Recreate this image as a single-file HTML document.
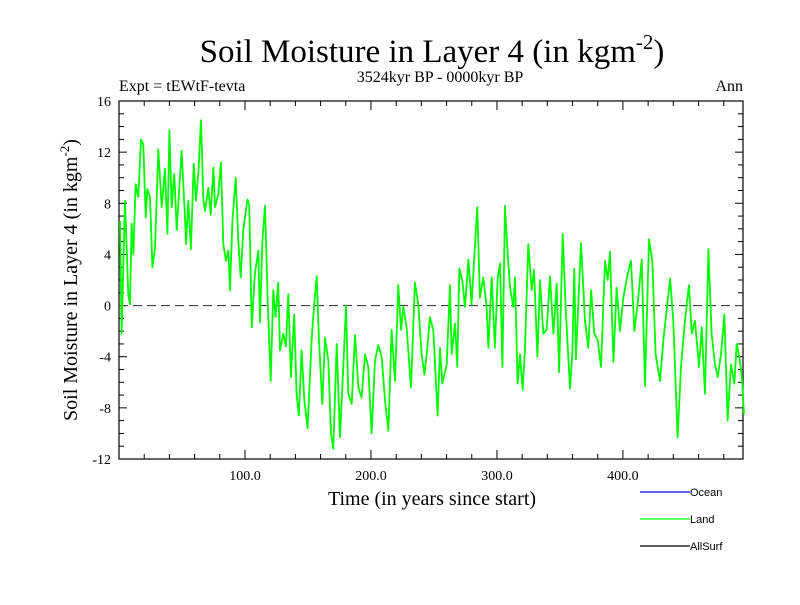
<!DOCTYPE html>
<html><head><meta charset="utf-8"><style>
body{margin:0;background:#fff}
svg text{font-family:"Liberation Serif",serif}
</style></head><body>
<svg id="chart" width="800" height="600" viewBox="0 0 800 600" xmlns="http://www.w3.org/2000/svg">
<rect width="800" height="600" fill="#fff"/>
<text x="432" y="62" font-size="33" text-anchor="middle">Soil Moisture in Layer 4 (in kgm<tspan dy="-13" font-size="21">-2</tspan><tspan dy="13">)</tspan></text>
<text x="440" y="82" font-size="16" text-anchor="middle">3524kyr BP - 0000kyr BP</text>
<text x="119" y="91" font-size="16">Expt = tEWtF-tevta</text>
<text x="743" y="91" font-size="16" text-anchor="end">Ann</text>
<text x="432" y="505" font-size="20" text-anchor="middle">Time (in years since start)</text>
<text transform="translate(77,280) rotate(-90)" font-size="20" text-anchor="middle">Soil Moisture in Layer 4 (in kgm<tspan dy="-8" font-size="13">-2</tspan><tspan dy="8">)</tspan></text>
<g id="axes"></g>
<g id="series"></g>
<g font-family="Liberation Sans, sans-serif">
<line x1="640" y1="492" x2="690" y2="492" stroke="#0000ff" stroke-width="1.2"/>
<text x="690" y="496" font-size="11" style="font-family:'Liberation Sans',sans-serif">Ocean</text>
<line x1="640" y1="519" x2="690" y2="519" stroke="#00ff00" stroke-width="1.2"/>
<text x="690" y="523" font-size="11" style="font-family:'Liberation Sans',sans-serif">Land</text>
<line x1="640" y1="546" x2="690" y2="546" stroke="#000" stroke-width="1.2"/>
<text x="690" y="550" font-size="11" style="font-family:'Liberation Sans',sans-serif">AllSurf</text>
</g>
</svg>
<script>
const years = [0.8,2.1,4.8,7.4,8.7,10.0,11.4,13.2,15.3,17.5,19.3,21.2,22.5,24.6,26.5,28.6,31.2,33.9,36.5,38.4,40.0,41.8,43.9,45.8,49.7,52.4,53.2,55.0,57.1,59.3,61.1,63.0,65.1,67.0,68.3,70.9,72.8,74.9,76.2,78.8,80.9,82.8,84.9,86.8,88.1,90.0,92.6,94.7,96.6,98.7,101.9,103.4,105.3,107.9,110.6,111.9,113.8,115.9,118.0,120.4,122.5,124.3,126.4,127.8,130.4,132.5,134.4,136.5,139.1,141.0,142.8,144.9,147.1,149.7,152.9,154.8,156.9,158.7,161.4,163.5,166.1,168.3,170.1,172.8,175.4,178.1,180.2,182.0,184.7,187.3,190.0,192.6,195.3,197.9,200.5,203.2,205.8,208.5,211.1,213.8,216.4,219.1,221.7,223.8,225.7,228.3,231.8,234.9,237.6,240.2,242.4,244.2,246.8,249.5,252.9,254.8,256.6,260.1,262.7,264.0,266.7,268.5,270.1,272.5,274.6,277.3,279.9,282.6,284.4,286.5,289.2,291.8,293.2,295.8,298.4,300.6,302.4,304.3,306.4,308.5,310.4,313.0,314.3,316.4,318.3,320.4,322.3,324.9,327.6,329.4,332.1,334.2,336.8,339.5,342.1,344.8,347.4,349.3,352.2,354.5,358.0,359.8,361.4,362.7,366.7,369.9,372.5,374.7,377.3,380.0,382.6,385.8,387.9,389.7,392.4,395.0,397.7,400.3,403.8,406.4,409.1,412.2,414.9,417.5,420.7,423.3,425.9,429.4,432.1,435.5,437.4,440.0,443.4,446.1,448.5,450.6,452.4,454.6,457.2,460.4,462.5,465.1,467.8,470.4,473.1,475.2,477.8,480.5,483.1,485.8,488.4,490.3,492.4,494.3,496.1];
const landValues = [6.6,-2.2,8.2,0.8,0.1,6.4,4.0,9.5,8.5,13.0,12.6,6.9,9.1,8.5,3.0,4.5,12.2,7.7,10.7,5.6,13.7,7.7,10.3,5.9,12.1,6.9,4.8,8.2,4.4,11.1,8.2,10.4,14.5,8.2,7.4,9.2,7.1,10.8,7.7,8.7,11.2,4.8,3.5,4.3,1.2,6.6,10.0,5.1,2.2,5.9,8.3,7.8,-1.7,2.5,4.3,-1.3,5.1,7.8,0.4,-5.9,1.2,-0.9,1.8,-3.5,-2.2,-3.2,0.9,-5.6,-0.7,-6.9,-8.6,-3.5,-7.4,-9.6,-2.7,-0.1,2.3,-2.6,-7.7,-2.5,-4.3,-10.0,-11.2,-3.0,-10.3,-4.6,0,-6.9,-7.7,-2.3,-6.4,-7.2,-3.8,-4.8,-10.0,-4.3,-3.1,-4.0,-7.4,-9.8,-1.9,-5.9,1.6,-1.9,-0.1,-1.7,-6.4,1.8,0.1,-3.8,-5.4,-3.8,-0.9,-1.9,-8.6,-3.3,-6.1,-4.6,1.6,-3.8,-1.4,-4.8,2.9,2.0,-0.1,3.6,0.1,4.8,7.7,0.6,2.2,-0.1,-3.3,2.2,-3.3,2.2,3.3,-4.8,7.8,4.0,1.4,-0.1,2.2,-6.1,-3.8,-6.6,-3.3,4.8,1.2,2.8,-4.0,2.0,-2.2,-1.9,2.3,-2.2,1.7,-5.2,5.6,-0.1,-6.5,-3.8,2.9,-4.2,4.9,-1.2,-3.3,1.2,-2.2,-2.7,-4.8,3.5,2.0,4.2,-4.4,1.4,-2.0,0.6,2.5,3.5,-2.0,0.6,3.6,-6.3,5.2,3.5,-3.8,-5.9,-2.7,0.4,2.1,-1.2,-10.3,-4.8,-2.0,0.1,1.6,-2.2,-1.2,-4.8,-1.7,-6.9,4.4,-2.2,-4.6,-5.6,-3.8,-0.7,-9.0,-4.6,-6.1,-3.0,-4.0,-5.4,-8.5];
const yTicks = [-12,-8,-4,0,4,8,12,16];
const xTicks = [100,200,300,400];
const xTickLabels = ["100.0","200.0","300.0","400.0"];

const NS="http://www.w3.org/2000/svg";
const L=119,R=743,T=101,B=459, XMIN=0,XMAX=495.3,YMIN=-12,YMAX=16;
const sx=v=>L+(v-XMIN)/(XMAX-XMIN)*(R-L);
const sy=v=>B-(v-YMIN)/(YMAX-YMIN)*(B-T);
function mk(tag,attrs,parent){const e=document.createElementNS(NS,tag);for(const k in attrs)e.setAttribute(k,attrs[k]);parent.appendChild(e);return e;}
const axes=document.getElementById('axes');
const frame=mk('rect',{x:L,y:T,width:R-L,height:B-T,fill:'none',stroke:'#000','stroke-width':1.2},axes);


for(let v=YMIN;v<=YMAX;v++){
  const major=(v%4===0);const len=major?8:5;const y=sy(v);
  mk('line',{x1:L,y1:y,x2:L+len,y2:y,stroke:'#000','stroke-width':1},axes);
  mk('line',{x1:R,y1:y,x2:R-len,y2:y,stroke:'#000','stroke-width':1},axes);
}
yTicks.forEach(v=>{
  const t=mk('text',{x:L-8,y:sy(v)+5,'font-size':14,'text-anchor':'end'},axes);
  t.textContent=String(v);
  
  
});
for(let v=20;v<XMAX;v+=20){
  const major=(v%100===0);const len=major?9:5;const x=sx(v);
  mk('line',{x1:x,y1:B,x2:x,y2:B-len,stroke:'#000','stroke-width':1},axes);
  mk('line',{x1:x,y1:T,x2:x,y2:T+len,stroke:'#000','stroke-width':1},axes);
}
xTicks.forEach((v,i)=>{
  const t=mk('text',{x:sx(v),y:B+21,'font-size':14,'text-anchor':'middle'},axes);
  t.textContent=xTickLabels[i];
  
  
});
const zero=mk('line',{x1:L,y1:sy(0),x2:R,y2:sy(0),stroke:'#444','stroke-width':1.2,'stroke-dasharray':'9,5'},axes);


const series=document.getElementById('series');
const d=years.map((yr,i)=>(i?'L':'M')+sx(yr).toFixed(1)+','+sy(landValues[i]).toFixed(1)).join('');
const p=mk('path',{d:d,fill:'none',stroke:'#00ff00','stroke-width':1.8,'stroke-linejoin':'round'},series);


</script>
</body></html>
